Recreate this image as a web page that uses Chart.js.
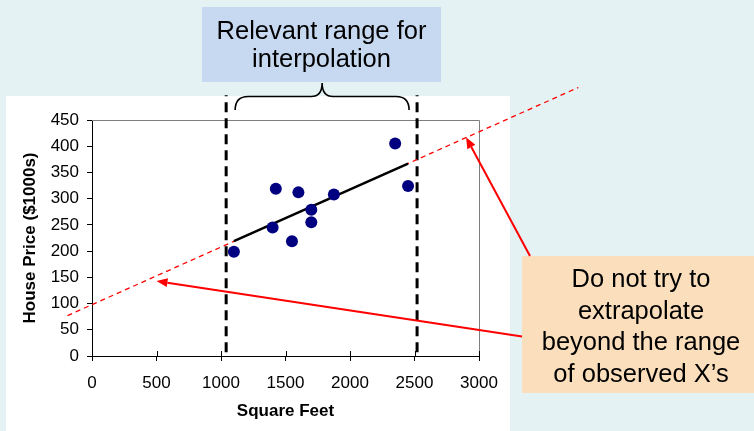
<!DOCTYPE html>
<html>
<head>
<meta charset="utf-8">
<script src="https://cdn.jsdelivr.net/npm/chart.js@4.4.1/dist/chart.umd.min.js"></script>
<style>
  html, body { margin: 0; padding: 0; background: #E4F2F3; }
  #wrap { width: 754px; height: 431px; position: relative; }
</style>
</head>
<body>
<div id="wrap"><canvas id="c" width="754" height="431"></canvas></div>
<script>
// Observed sample: square feet vs house price ($1000s)
const squareFeet = [1400, 1600, 1700, 1875, 1100, 1550, 2350, 2450, 1425, 1700];
const housePrice = [245, 312, 279, 308, 199, 219, 405, 324, 319, 255];

// Fitted regression line over the observed X range
const fitX = [1100, 2450];
const fitY = [219, 367];

// Same line extended beyond the observed range (dashed)
const extendX = [-190, 3770];
const extendY = [77, 512];

// Bounds of the relevant range (vertical dashed markers)
const rangeBounds = [1040, 2520];
const rangeSpanY = [7, 497];

// Points the arrows aim at on the extended line
const arrowTargetX = [500, 2900];
const arrowTargetY = [143, 417];

const xTickStep = 500;
const yTickStep = 50;

const FONT = "'Liberation Sans', Arial, sans-serif";

const pts = (xs, ys) => xs.map((x, i) => ({ x, y: ys[i] }));

function drawArrow(ctx, x0, y0, x1, y1) {
  const ang = Math.atan2(y1 - y0, x1 - x0);
  const len = 11, half = 4.5;
  const bx = x1 - len * Math.cos(ang), by = y1 - len * Math.sin(ang);
  ctx.beginPath();
  ctx.moveTo(x0, y0);
  ctx.lineTo(bx, by);
  ctx.stroke();
  ctx.beginPath();
  ctx.moveTo(x1, y1);
  ctx.lineTo(bx + half * Math.sin(ang), by - half * Math.cos(ang));
  ctx.lineTo(bx - half * Math.sin(ang), by + half * Math.cos(ang));
  ctx.closePath();
  ctx.fill();
}

const decor = {
  id: 'decor',
  beforeDraw(chart) {
    const ctx = chart.ctx;
    ctx.save();
    ctx.fillStyle = '#E4F2F3';
    ctx.fillRect(0, 0, chart.width, chart.height);
    ctx.fillStyle = '#FFFFFF';
    ctx.fillRect(6, 96, 504, 335);
    ctx.restore();
  },
  beforeDatasetsDraw(chart) {
    const { ctx, chartArea: a } = chart;
    const xs = chart.scales.x;
    ctx.save();
    // top and right frame of the plot area
    ctx.strokeStyle = '#7F7F7F';
    ctx.lineWidth = 1;
    ctx.beginPath();
    ctx.moveTo(a.left, Math.round(a.top) + 0.5);
    ctx.lineTo(Math.round(a.right) + 0.5, Math.round(a.top) + 0.5);
    ctx.lineTo(Math.round(a.right) + 0.5, a.bottom);
    ctx.stroke();
    // inner half of the x-axis tick marks
    ctx.strokeStyle = '#000';
    ctx.beginPath();
    xs.ticks.forEach(t => {
      const px = Math.round(xs.getPixelForValue(t.value)) + 0.5;
      ctx.moveTo(px, a.bottom);
      ctx.lineTo(px, a.bottom - 5);
    });
    ctx.stroke();
    ctx.restore();
  },
  afterDraw(chart) {
    const ctx = chart.ctx;
    const xs = chart.scales.x, ys = chart.scales.y;
    ctx.save();

    // Brace spanning the relevant range
    const bx0 = xs.getPixelForValue(rangeBounds[0]) + 9;
    const bx1 = xs.getPixelForValue(rangeBounds[1]) - 8;
    const cx = (bx0 + bx1) / 2;
    const yEnd = 110, yMid = 96.5, yTip = 83;
    ctx.strokeStyle = '#000';
    ctx.lineWidth = 1.6;
    ctx.beginPath();
    ctx.moveTo(bx0, yEnd);
    ctx.quadraticCurveTo(bx0, yMid, bx0 + 13, yMid);
    ctx.lineTo(cx - 11, yMid);
    ctx.quadraticCurveTo(cx, yMid, cx, yTip);
    ctx.quadraticCurveTo(cx, yMid, cx + 11, yMid);
    ctx.lineTo(bx1 - 13, yMid);
    ctx.quadraticCurveTo(bx1, yMid, bx1, yEnd);
    ctx.stroke();

    // Label boxes
    ctx.fillStyle = '#C6D9F1';
    ctx.fillRect(202, 7, 239, 75);
    ctx.fillStyle = '#FBDEBC';
    ctx.fillRect(522, 256, 232, 137);

    ctx.fillStyle = '#000';
    ctx.font = '25.5px ' + FONT;
    ctx.textAlign = 'center';
    ctx.textBaseline = 'alphabetic';
    ctx.fillText('Relevant range for', 321.5, 38.5);
    ctx.fillText('interpolation', 321.5, 67);
    ctx.fillText('Do not try to', 641, 286.5);
    ctx.fillText('extrapolate', 641, 318.5);
    ctx.fillText('beyond the range', 641, 350);
    ctx.fillText('of observed X\u2019s', 641, 382);

    // Arrows from the warning box to the extended line
    ctx.strokeStyle = '#FF0000';
    ctx.fillStyle = '#FF0000';
    ctx.lineWidth = 2;
    drawArrow(ctx, 522, 336.5, xs.getPixelForValue(arrowTargetX[0]), ys.getPixelForValue(arrowTargetY[0]));
    drawArrow(ctx, 530, 256, xs.getPixelForValue(arrowTargetX[1]), ys.getPixelForValue(arrowTargetY[1]));
    ctx.restore();
  }
};

const axisCommon = {
  type: 'linear',
  grid: { drawOnChartArea: false, drawTicks: true, tickLength: 5, color: '#000', lineWidth: 1 },
  border: { display: true, color: '#000', width: 1 },
};

new Chart(document.getElementById('c'), {
  type: 'scatter',
  data: {
    datasets: [
      {
        label: 'Observed',
        data: pts(squareFeet, housePrice),
        backgroundColor: '#000080',
        borderColor: '#000080',
        pointRadius: 6,
        pointBorderWidth: 0,
        clip: false
      },
      {
        type: 'line',
        label: 'Fitted line',
        data: pts(fitX, fitY),
        borderColor: '#000',
        borderWidth: 2.5,
        pointRadius: 0,
        fill: false,
        clip: false
      },
      {
        type: 'line',
        label: 'Extended line',
        data: pts(extendX, extendY),
        borderColor: '#FF0000',
        borderWidth: 1.3,
        borderDash: [5, 4],
        pointRadius: 0,
        fill: false,
        clip: false
      },
      {
        type: 'line',
        label: 'Lower bound',
        data: pts([rangeBounds[0], rangeBounds[0]], rangeSpanY),
        borderColor: '#000',
        borderWidth: 3,
        borderDash: [10, 6],
        borderCapStyle: 'butt',
        pointRadius: 0,
        fill: false,
        clip: false
      },
      {
        type: 'line',
        label: 'Upper bound',
        data: pts([rangeBounds[1], rangeBounds[1]], rangeSpanY),
        borderColor: '#000',
        borderWidth: 3,
        borderDash: [10, 6],
        borderCapStyle: 'butt',
        pointRadius: 0,
        fill: false,
        clip: false
      }
    ]
  },
  options: {
    responsive: false,
    animation: false,
    devicePixelRatio: 1,
    layout: { padding: { left: 0, top: 120, right: 275, bottom: 0 } },
    plugins: { legend: { display: false }, tooltip: { enabled: false } },
    scales: {
      x: {
        ...axisCommon,
        position: 'bottom',
        min: 0, max: 3000,
        ticks: { stepSize: xTickStep, color: '#000', font: { family: FONT, size: 17 }, padding: 12, maxRotation: 0, autoSkip: false, callback: v => String(v) },
        title: { display: true, text: 'Square Feet', color: '#000', font: { family: FONT, size: 17, weight: 'bold' }, padding: { top: 0, bottom: 9 } },
        afterFit(s) { s.height = 75; }
      },
      y: {
        ...axisCommon,
        position: 'left',
        min: 0, max: 450,
        ticks: { stepSize: yTickStep, color: '#000', font: { family: FONT, size: 17 }, padding: 8, autoSkip: false, callback: v => String(v) },
        title: { display: true, text: 'House Price ($1000s)', color: '#000', font: { family: FONT, size: 17, weight: 'bold' }, padding: { top: 20, bottom: 0 } },
        afterFit(s) { s.width = 92; }
      }
    }
  },
  plugins: [decor]
});
</script>
</body>
</html>
